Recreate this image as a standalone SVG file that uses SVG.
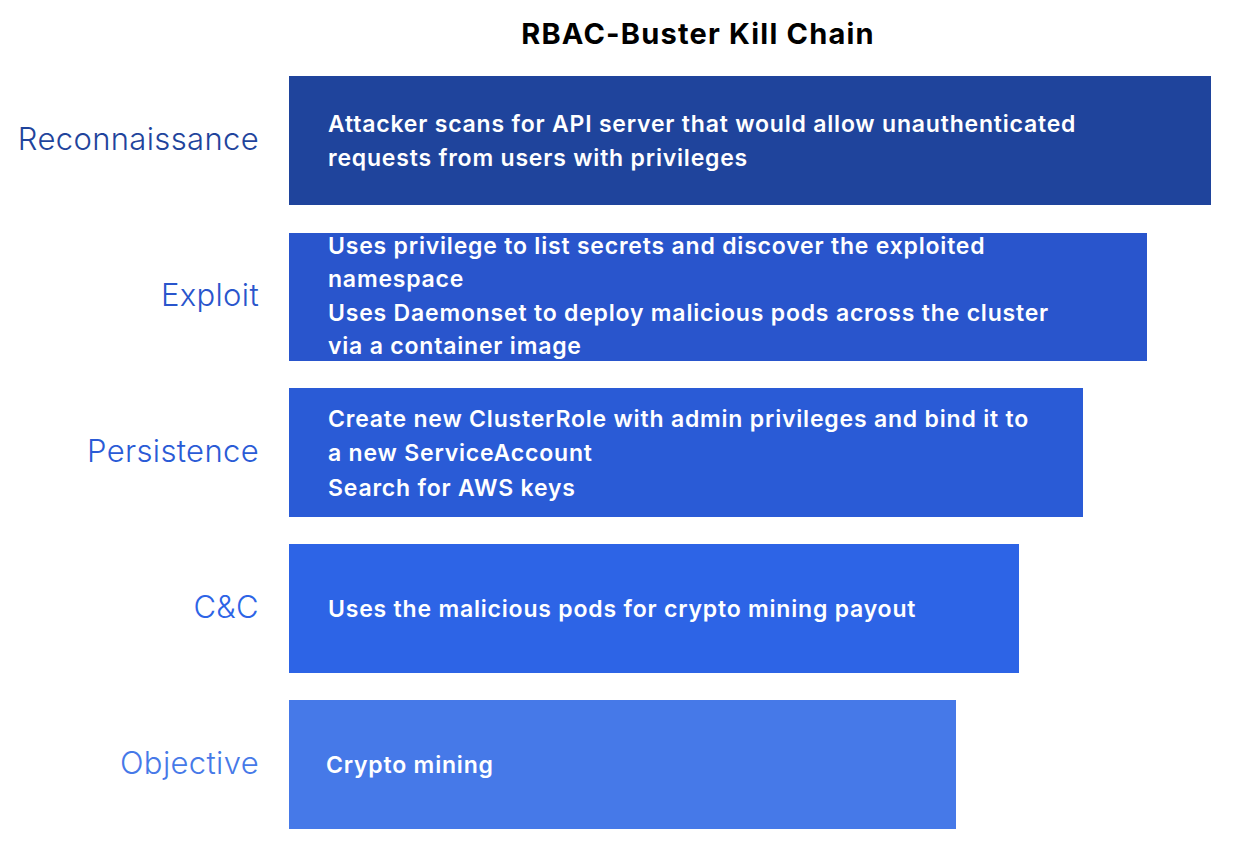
<svg xmlns="http://www.w3.org/2000/svg" width="1246" height="858" viewBox="0 0 1246 858">
<style>
.title{font-family:Inter,"Noto Sans","Liberation Sans",sans-serif;font-size:29px;font-weight:700;fill:#000;text-anchor:middle;letter-spacing:1.2px}
.lbl{font-family:Inter,"Noto Sans","Liberation Sans",sans-serif;font-size:31px;font-weight:300;text-anchor:end;letter-spacing:0.35px}
.txt{font-family:Inter,"Noto Sans","Liberation Sans",sans-serif;font-size:23px;font-weight:600;fill:#fff;letter-spacing:0.8px}
</style>
<rect width="1246" height="858" fill="#fff"/>
<text class="title" x="698" y="44">RBAC-Buster Kill Chain</text>
<g id="reconnaissance">
<rect x="289" y="76" width="922" height="129" fill="#1f449c"/>
<text class="lbl" x="259" y="150" fill="#1f449c">Reconnaissance</text>
<text class="txt" x="328" y="132">Attacker scans for API server that would allow unauthenticated</text>
<text class="txt" x="328" y="166">requests from users with privileges</text>
</g>
<g id="exploit">
<rect x="289" y="233" width="858" height="128" fill="#2955cc"/>
<text class="lbl" x="259" y="306" fill="#2955cc">Exploit</text>
<text class="txt" x="328" y="254">Uses privilege to list secrets and discover the exploited</text>
<text class="txt" x="328" y="287">namespace</text>
<text class="txt" x="328" y="321">Uses Daemonset to deploy malicious pods across the cluster</text>
<text class="txt" x="328" y="354">via a container image</text>
</g>
<g id="persistence">
<rect x="289" y="388" width="794" height="129" fill="#2a5bd6"/>
<text class="lbl" x="259" y="462" fill="#2a5bd6">Persistence</text>
<text class="txt" x="328" y="427">Create new ClusterRole with admin privileges and bind it to</text>
<text class="txt" x="328" y="461">a new ServiceAccount</text>
<text class="txt" x="328" y="496">Search for AWS keys</text>
</g>
<g id="cc">
<rect x="289" y="544" width="730" height="129" fill="#2d64e6"/>
<text class="lbl" x="259" y="618" fill="#2d64e6">C&amp;C</text>
<text class="txt" x="328" y="617">Uses the malicious pods for crypto mining payout</text>
</g>
<g id="objective">
<rect x="289" y="700" width="667" height="129" fill="#4679e8"/>
<text class="lbl" x="259" y="774" fill="#4679e8">Objective</text>
<text class="txt" x="326" y="773">Crypto mining</text>
</g>
<g id="connectors"/>
</svg>
